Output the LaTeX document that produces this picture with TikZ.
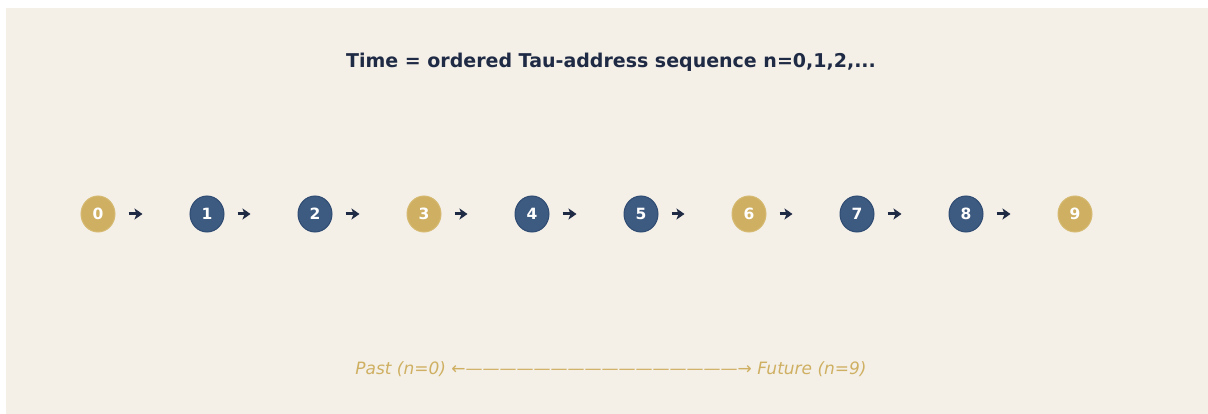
\documentclass[tikz,border=0pt]{standalone}
\usepackage{fontspec}
\setmainfont{DejaVu Sans}
\usetikzlibrary{arrows.meta,shapes.geometric}
\definecolor{bgc}{HTML}{F4F0E8}
\definecolor{goldc}{HTML}{CFB062}
\definecolor{goldb}{HTML}{D6BA72}
\definecolor{bluec}{HTML}{3D5A80}
\definecolor{blueb}{HTML}{2F4B72}
\definecolor{navy}{HTML}{1F2A44}
\tikzset{
  tnode/.style={ellipse, minimum width=34pt, minimum height=36pt, inner sep=0pt, line width=1pt,
    text=white, font=\fontsize{15.5}{15.5}\selectfont\bfseries},
  goldnode/.style={tnode, fill=goldc, draw=goldb},
  bluenode/.style={tnode, fill=bluec, draw=blueb},
  seqarrow/.style={draw=navy, line width=3pt, -{Stealth[length=8pt,width=11pt,inset=2pt]}, shorten <=13pt, shorten >=47pt},
}
\begin{document}
\begin{tikzpicture}[x=1pt,y=-1pt]
\useasboundingbox (0,0) rectangle (1208,414);
\fill[white] (0,0) rectangle (1208,414);
\fill[bgc] (6,8) rectangle (1208,414);
\node[font=\fontsize{19}{19}\selectfont\bfseries, text=navy] (title) at (611,62) {Time = ordered Tau-address sequence n=0,1,2,...};
\node[goldnode] (n0) at (98,214) {0};
\node[bluenode] (n1) at (207,214) {1};
\node[bluenode] (n2) at (315,214) {2};
\node[goldnode] (n3) at (424,214) {3};
\node[bluenode] (n4) at (532,214) {4};
\node[bluenode] (n5) at (641,214) {5};
\node[goldnode] (n6) at (749,214) {6};
\node[bluenode] (n7) at (857,214) {7};
\node[bluenode] (n8) at (966,214) {8};
\node[goldnode] (n9) at (1075,214) {9};
\foreach \a/\b in {n0/n1,n1/n2,n2/n3,n3/n4,n4/n5,n5/n6,n6/n7,n7/n8,n8/n9}
  \draw[seqarrow] (\a) -- (\b);
\node[font=\fontsize{17}{17}\selectfont\itshape, text=goldc] (axis) at (611,369) {Past (n=0) ←————————————————→ Future (n=9)};
\end{tikzpicture}
\end{document}
